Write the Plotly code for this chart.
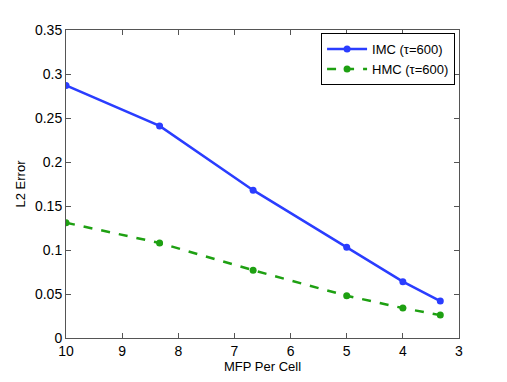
import plotly.graph_objects as go

mfp = [10, 8.333, 6.667, 5, 4, 3.333]
imc_err = [0.287, 0.241, 0.168, 0.103, 0.064, 0.042]
hmc_err = [0.131, 0.108, 0.077, 0.048, 0.034, 0.026]

fig = go.Figure()
fig.add_trace(go.Scatter(x=mfp, y=imc_err, mode='lines+markers', name='IMC (τ=600)',
                         line=dict(color='#2a3dff', width=2.5),
                         marker=dict(size=7, color='#2a3dff')))
fig.add_trace(go.Scatter(x=mfp, y=hmc_err, mode='lines+markers', name='HMC (τ=600)',
                         line=dict(color='#1ea012', width=2.5, dash='dash'),
                         marker=dict(size=7, color='#1ea012')))

# MATLAB-like box: ticks inside on all four sides
axis_style = dict(showline=True, linecolor='#555', linewidth=1, mirror='ticks',
                  ticks='inside', ticklen=5, tickcolor='#555', showgrid=False,
                  zeroline=False, automargin=False, tickfont=dict(size=14, color='black'))

# page body has an 8px margin, so the figure is sized to fit inside the window
fig.update_layout(
    width=499, height=374,
    margin=dict(l=58, r=48, t=22, b=44),
    paper_bgcolor='white', plot_bgcolor='white',
    font=dict(family='Liberation Sans, Arial, sans-serif', color='black', size=13),
    xaxis=dict(range=[10, 3], tickvals=[10, 9, 8, 7, 6, 5, 4, 3],
               title=dict(text='MFP Per Cell', standoff=0, font=dict(size=13)),
               **axis_style),
    yaxis=dict(range=[0, 0.35], tickvals=[0, 0.05, 0.1, 0.15, 0.2, 0.25, 0.3, 0.35],
               ticktext=['0', '0.05', '0.1', '0.15', '0.2', '0.25', '0.3', '0.35'],
               title=dict(text='L2 Error', standoff=6, font=dict(size=13)),
               **axis_style),
    legend=dict(x=0.99, y=0.99, xanchor='right', yanchor='top',
                bgcolor='white', bordercolor='black', borderwidth=1,
                font=dict(size=13), itemwidth=40, tracegroupgap=0),
    showlegend=True,
)

fig.write_html("out.html")
